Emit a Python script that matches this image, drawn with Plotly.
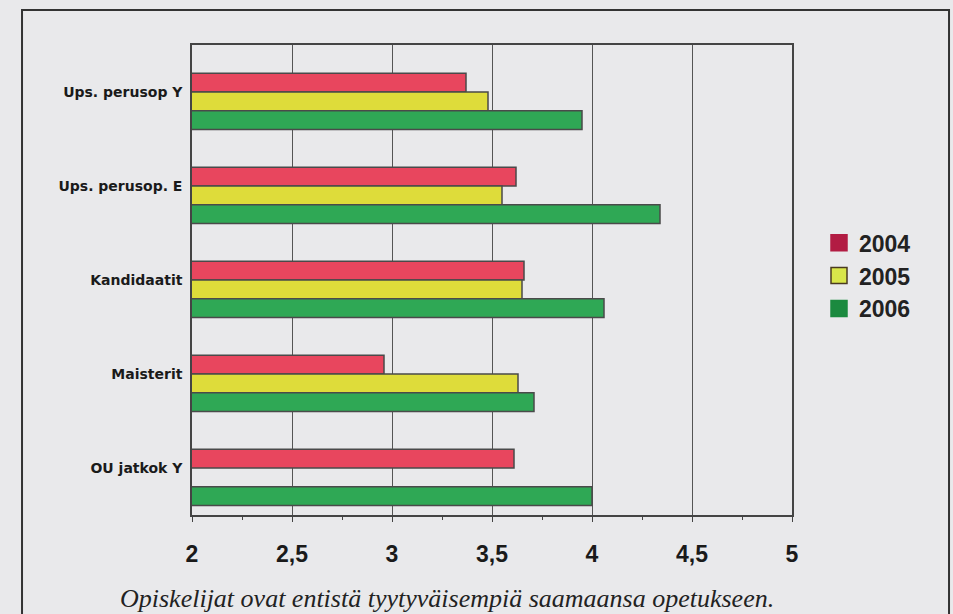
import plotly.graph_objects as go

categories = ["Ups. perusop Y", "Ups. perusop. E", "Kandidaatit", "Maisterit", "OU jatkok Y"]
years = ["2004", "2005", "2006"]
v2004 = [3.37, 3.62, 3.66, 2.96, 3.61]
v2005 = [3.48, 3.55, 3.65, 3.63, None]
v2006 = [3.95, 4.34, 4.06, 3.71, 4.00]
x_ticks = [2, 2.5, 3, 3.5, 4, 4.5, 5]
caption = "Opiskelijat ovat entistä tyytyväisempiä saamaansa opetukseen."

series = [v2004, v2005, v2006]
bar_colors = ["#E8465E", "#DEDC3A", "#2FA855"]
legend_colors = ["#B21C43", "#D9E64A", "#1B8A3F"]
legend_lines = ["#B21C43", "#4A3A20", "#1B8A3F"]
offsets = [-0.2, 0.0, 0.2]

BG = "#E9E9EB"
fig = go.Figure()
for name, vals, col, off in zip(years, series, bar_colors, offsets):
    fig.add_trace(go.Bar(
        y=categories, x=vals, orientation="h", name=name,
        marker=dict(color=col, line=dict(color="#4a4a4a", width=1.5)),
        offset=off, width=0.2, showlegend=False,
    ))
for name, lc, ll in zip(years, legend_colors, legend_lines):
    fig.add_trace(go.Scatter(
        x=[None], y=[None], mode="markers", name=name, legendgroup=name,
        marker=dict(symbol="square", size=22, color=lc, line=dict(color=ll, width=1.5)),
    ))

fig.update_layout(
    width=953, height=614,
    margin=dict(l=192, r=161, t=45, b=99),
    paper_bgcolor=BG, plot_bgcolor=BG,
    barmode="overlay",
    separators=", ",
    showlegend=True,
    legend=dict(
        x=1.045, y=0.625, xanchor="left", yanchor="top",
        font=dict(family="Liberation Sans", size=23, color="#222", weight="bold"),
        bgcolor="rgba(0,0,0,0)", traceorder="grouped", tracegroupgap=0,
        itemsizing="trace",
    ),
    xaxis=dict(
        range=[2, 5], tickvals=x_ticks,
        showgrid=True, gridcolor="#555", gridwidth=1,
        showline=True, linecolor="#444", linewidth=1.5, mirror=True,
        ticks="outside", ticklen=5, tickcolor="#444",
        minor=dict(dtick=0.25, ticks="outside", ticklen=3, tickcolor="#444", showgrid=False),
        tickfont=dict(family="Liberation Sans", size=23, color="#1a1a1a", weight="bold"),
        ticklabelstandoff=13, zeroline=False,
    ),
    yaxis=dict(
        autorange="reversed", type="category",
        showgrid=False, showline=True, linecolor="#444", linewidth=1.5, mirror=True,
        ticks="", ticklabelstandoff=5,
        tickfont=dict(family="DejaVu Sans", size=14, color="#1a1a1a", weight="bold"),
    ),
    annotations=[dict(
        text=caption, xref="paper", yref="paper", x=0.425, y=-0.1766,
        xanchor="center", yanchor="middle", showarrow=False,
        font=dict(family="Liberation Serif", size=26, color="#222", style="italic"),
    )],
    shapes=[dict(
        type="rect", xref="paper", yref="paper",
        x0=-0.2833, x1=1.2617, y0=-0.25, y1=1.0745,
        line=dict(color="#333", width=2), fillcolor="rgba(0,0,0,0)", layer="below",
    )],
)

fig.write_html("out.html", config={"displayModeBar": False},
               post_script="document.body.style.margin='0px';document.body.style.overflow='hidden';")
